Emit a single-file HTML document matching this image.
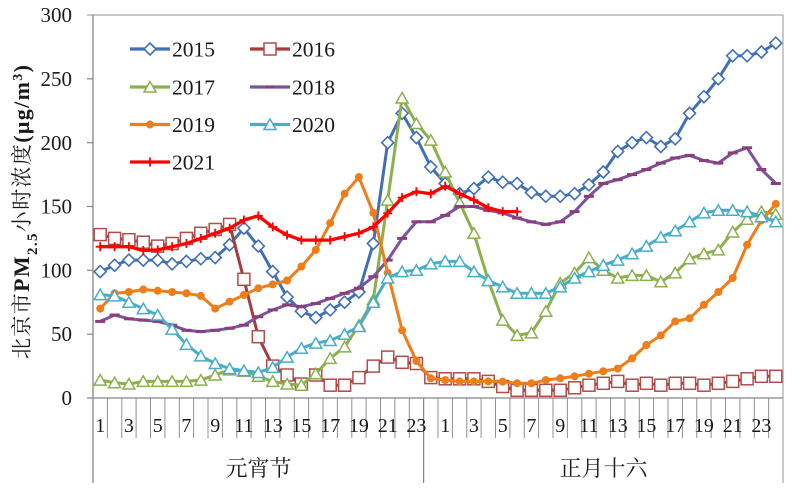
<!DOCTYPE html>
<html><head><meta charset="utf-8"><style>
html,body{margin:0;padding:0;background:#fff;}
svg{display:block;}
</style></head><body>
<svg width="800" height="501" viewBox="0 0 800 501" xmlns="http://www.w3.org/2000/svg">
<defs>
<marker id="md" markerUnits="userSpaceOnUse" markerWidth="16" markerHeight="16" refX="8" refY="8" overflow="visible"><path d="M8,2 L14,8 L8,14 L2,8Z" fill="#fff" stroke="#4170B5" stroke-width="1.6"/></marker>
<marker id="ms" markerUnits="userSpaceOnUse" markerWidth="16" markerHeight="16" refX="8" refY="8" overflow="visible"><rect x="2" y="2" width="12" height="12" fill="#fff" stroke="#B04C4A" stroke-width="1.5"/></marker>
<marker id="mtg" markerUnits="userSpaceOnUse" markerWidth="16" markerHeight="16" refX="8" refY="8" overflow="visible"><path d="M8,2.5 L14,13 L2,13Z" fill="#fff" stroke="#8CB04E" stroke-width="1.5"/></marker>
<marker id="mtc" markerUnits="userSpaceOnUse" markerWidth="16" markerHeight="16" refX="8" refY="8" overflow="visible"><path d="M8,2.5 L14,13 L2,13Z" fill="#fff" stroke="#48ADC8" stroke-width="1.5"/></marker>
<marker id="mh" markerUnits="userSpaceOnUse" markerWidth="16" markerHeight="16" refX="8" refY="8" overflow="visible"><rect x="3" y="6.5" width="10" height="3" fill="#8A3F7A"/></marker>
<marker id="mo" markerUnits="userSpaceOnUse" markerWidth="16" markerHeight="16" refX="8" refY="8" overflow="visible"><circle cx="8" cy="8" r="4" fill="#EE7E1A"/></marker>
<marker id="mp" markerUnits="userSpaceOnUse" markerWidth="16" markerHeight="16" refX="8" refY="8" overflow="visible"><path d="M8,3.5 V12.5 M3.5,8 H12.5" stroke="#FF0000" stroke-width="1.8"/></marker>
</defs>

<!-- plot frame -->
<line x1="87" y1="15" x2="783" y2="15" stroke="#A6A6A6" stroke-width="1.2"/>
<line x1="783" y1="15" x2="783" y2="483" stroke="#A6A6A6" stroke-width="1.2"/>
<line x1="93" y1="15" x2="93" y2="483" stroke="#868686" stroke-width="1.3"/>
<line x1="93" y1="398" x2="783" y2="398" stroke="#868686" stroke-width="1.3"/>
<g stroke="#868686" stroke-width="1.2">
<line x1="87" y1="78.8" x2="93" y2="78.8"/><line x1="87" y1="142.7" x2="93" y2="142.7"/>
<line x1="87" y1="206.5" x2="93" y2="206.5"/><line x1="87" y1="270.3" x2="93" y2="270.3"/>
<line x1="87" y1="334.2" x2="93" y2="334.2"/><line x1="87" y1="398" x2="93" y2="398"/>
<line x1="423.6" y1="398" x2="423.6" y2="483"/>
</g>
<g stroke="#909090" stroke-width="1">
<line x1="107.4" y1="398" x2="107.4" y2="438"/><line x1="121.8" y1="398" x2="121.8" y2="438"/>
<line x1="136.1" y1="398" x2="136.1" y2="438"/><line x1="150.5" y1="398" x2="150.5" y2="438"/>
<line x1="164.9" y1="398" x2="164.9" y2="438"/><line x1="179.3" y1="398" x2="179.3" y2="438"/>
<line x1="193.6" y1="398" x2="193.6" y2="438"/><line x1="208" y1="398" x2="208" y2="438"/>
<line x1="222.4" y1="398" x2="222.4" y2="438"/><line x1="236.8" y1="398" x2="236.8" y2="438"/>
<line x1="251.1" y1="398" x2="251.1" y2="438"/><line x1="265.5" y1="398" x2="265.5" y2="438"/>
<line x1="279.9" y1="398" x2="279.9" y2="438"/><line x1="294.3" y1="398" x2="294.3" y2="438"/>
<line x1="308.6" y1="398" x2="308.6" y2="438"/><line x1="323" y1="398" x2="323" y2="438"/>
<line x1="337.4" y1="398" x2="337.4" y2="438"/><line x1="351.8" y1="398" x2="351.8" y2="438"/>
<line x1="366.1" y1="398" x2="366.1" y2="438"/><line x1="380.5" y1="398" x2="380.5" y2="438"/>
<line x1="394.9" y1="398" x2="394.9" y2="438"/><line x1="409.3" y1="398" x2="409.3" y2="438"/>
<line x1="438" y1="398" x2="438" y2="438"/><line x1="452.4" y1="398" x2="452.4" y2="438"/>
<line x1="466.8" y1="398" x2="466.8" y2="438"/><line x1="481.1" y1="398" x2="481.1" y2="438"/>
<line x1="495.5" y1="398" x2="495.5" y2="438"/><line x1="509.9" y1="398" x2="509.9" y2="438"/>
<line x1="524.3" y1="398" x2="524.3" y2="438"/><line x1="538.6" y1="398" x2="538.6" y2="438"/>
<line x1="553" y1="398" x2="553" y2="438"/><line x1="567.4" y1="398" x2="567.4" y2="438"/>
<line x1="581.8" y1="398" x2="581.8" y2="438"/><line x1="596.1" y1="398" x2="596.1" y2="438"/>
<line x1="610.5" y1="398" x2="610.5" y2="438"/><line x1="624.9" y1="398" x2="624.9" y2="438"/>
<line x1="639.3" y1="398" x2="639.3" y2="438"/><line x1="653.6" y1="398" x2="653.6" y2="438"/>
<line x1="668" y1="398" x2="668" y2="438"/><line x1="682.4" y1="398" x2="682.4" y2="438"/>
<line x1="696.8" y1="398" x2="696.8" y2="438"/><line x1="711.1" y1="398" x2="711.1" y2="438"/>
<line x1="725.5" y1="398" x2="725.5" y2="438"/><line x1="739.9" y1="398" x2="739.9" y2="438"/>
<line x1="754.3" y1="398" x2="754.3" y2="438"/><line x1="768.6" y1="398" x2="768.6" y2="438"/>
</g>

<!-- y labels -->
<g font-family="Liberation Serif, serif" font-size="21" fill="#1a1a1a" text-anchor="end">
<text x="72" y="22">300</text><text x="72" y="86">250</text><text x="72" y="150">200</text>
<text x="72" y="213.5">150</text><text x="72" y="277.5">100</text><text x="72" y="341">50</text><text x="72" y="405">0</text>
</g>
<!-- x labels -->
<g font-family="Liberation Serif, serif" font-size="20" fill="#1a1a1a" text-anchor="middle">
<text x="100.2" y="432">1</text><text x="128.9" y="432">3</text><text x="157.7" y="432">5</text><text x="186.4" y="432">7</text>
<text x="215.2" y="432">9</text><text x="243.9" y="432">11</text><text x="272.7" y="432">13</text><text x="301.4" y="432">15</text>
<text x="330.2" y="432">17</text><text x="358.9" y="432">19</text><text x="387.7" y="432">21</text><text x="416.4" y="432">23</text>
<text x="445.2" y="432">1</text><text x="473.9" y="432">3</text><text x="502.7" y="432">5</text><text x="531.4" y="432">7</text>
<text x="560.2" y="432">9</text><text x="588.9" y="432">11</text><text x="617.7" y="432">13</text><text x="646.4" y="432">15</text>
<text x="675.2" y="432">17</text><text x="703.9" y="432">19</text><text x="732.7" y="432">21</text><text x="761.4" y="432">23</text>
</g>
<g font-family="Liberation Serif, 'Noto Serif CJK SC', serif" font-size="22" fill="#1a1a1a" text-anchor="middle">
<text x="258.5" y="476">元宵节</text>
<text x="603.5" y="476">正月十六</text>
</g>

<!-- y title -->
<text transform="translate(29,212) rotate(-90)" text-anchor="middle" font-size="22" fill="#1a1a1a" textLength="294" lengthAdjust="spacing" font-family="Liberation Serif, 'Noto Serif CJK SC', serif"><tspan font-size="21">北京市</tspan><tspan font-weight="bold">PM</tspan><tspan font-weight="bold" font-size="15" baseline-shift="sub">2.5</tspan><tspan font-size="21">小时浓度</tspan><tspan font-weight="bold">(μg/m</tspan><tspan font-weight="bold" font-size="14" baseline-shift="super">3</tspan><tspan font-weight="bold">)</tspan></text>

<!-- series -->
<g fill="none" stroke-linejoin="round" stroke-linecap="round">
<polyline stroke="#4170B5" stroke-width="3" marker-start="url(#md)" marker-mid="url(#md)" marker-end="url(#md)" points="100.2,271.6 114.6,265.2 128.9,260.1 143.3,260.1 157.7,260.1 172.1,263.9 186.4,261.4 200.8,258.8 215.2,257.6 229.6,244.8 243.9,228.2 258.3,246.1 272.7,271.6 287.1,297.1 301.4,311.2 315.8,317.6 330.2,309.9 344.6,302.2 358.9,292.0 373.3,243.5 387.7,142.7 402.1,113.3 416.4,137.6 430.8,166.9 445.2,183.5 459.6,193.7 473.9,188.6 488.3,177.1 502.7,182.2 517.1,183.5 531.4,192.5 545.8,196.3 560.2,196.3 574.6,193.7 588.9,184.8 603.3,172.0 617.7,151.6 632.1,142.7 646.4,137.6 660.8,146.5 675.2,138.8 689.6,113.3 703.9,96.7 718.3,78.8 732.7,55.8 747.1,55.8 761.4,52.0 775.8,43.1"/>
<polyline stroke="#A23E3B" stroke-width="3" marker-start="url(#ms)" marker-mid="url(#ms)" marker-end="url(#ms)" points="100.2,234.6 114.6,238.4 128.9,239.7 143.3,242.2 157.7,246.1 172.1,243.5 186.4,238.4 200.8,233.3 215.2,229.5 229.6,224.4 243.9,279.3 258.3,336.7 272.7,366.1 287.1,375.0 301.4,384.0 315.8,375.0 330.2,385.2 344.6,385.2 358.9,377.6 373.3,366.1 387.7,357.1 402.1,362.3 416.4,363.5 430.8,377.6 445.2,378.8 459.6,378.8 473.9,378.8 488.3,381.4 502.7,386.5 517.1,390.3 531.4,390.3 545.8,390.3 560.2,390.3 574.6,387.8 588.9,385.2 603.3,383.3 617.7,381.4 632.1,385.2 646.4,383.3 660.8,385.2 675.2,383.3 689.6,383.3 703.9,385.2 718.3,383.3 732.7,381.4 747.1,378.8 761.4,376.3 775.8,376.3"/>
<polyline stroke="#8CB04E" stroke-width="3" marker-start="url(#mtg)" marker-mid="url(#mtg)" marker-end="url(#mtg)" points="100.2,380.1 114.6,382.7 128.9,384.0 143.3,381.4 157.7,381.4 172.1,381.4 186.4,381.4 200.8,380.1 215.2,375.0 229.6,369.9 243.9,371.2 258.3,376.3 272.7,381.4 287.1,384.0 301.4,385.2 315.8,373.7 330.2,358.4 344.6,346.9 358.9,325.2 373.3,299.7 387.7,200.1 402.1,98.0 416.4,123.5 430.8,140.1 445.2,172.0 459.6,202.7 473.9,233.3 488.3,280.5 502.7,320.1 517.1,335.4 531.4,332.9 545.8,311.2 560.2,283.1 574.6,272.9 588.9,257.6 603.3,270.3 617.7,278.0 632.1,275.4 646.4,275.4 660.8,281.8 675.2,272.9 689.6,258.8 703.9,253.7 718.3,249.9 732.7,232.0 747.1,219.3 761.4,211.6 775.8,214.2"/>
<polyline stroke="#7B549C" stroke-width="3" marker-start="url(#mh)" marker-mid="url(#mh)" marker-end="url(#mh)" points="100.2,321.4 114.6,315.0 128.9,318.8 143.3,320.1 157.7,321.4 172.1,325.2 186.4,330.3 200.8,331.6 215.2,330.3 229.6,328.3 243.9,325.2 258.3,316.7 272.7,309.9 287.1,304.8 301.4,306.7 315.8,303.5 330.2,298.4 344.6,293.3 358.9,288.2 373.3,276.7 387.7,260.1 402.1,238.4 416.4,221.8 430.8,221.8 445.2,215.4 459.6,206.5 473.9,206.5 488.3,210.3 502.7,212.9 517.1,218.0 531.4,221.8 545.8,224.4 560.2,221.8 574.6,211.6 588.9,196.3 603.3,183.5 617.7,179.7 632.1,174.6 646.4,169.5 660.8,163.1 675.2,158.0 689.6,155.4 703.9,160.5 718.3,163.1 732.7,152.9 747.1,147.8 761.4,169.5 775.8,183.5"/>
<polyline stroke="#EE7E1A" stroke-width="3" marker-start="url(#mo)" marker-mid="url(#mo)" marker-end="url(#mo)" points="100.2,308.6 114.6,293.3 128.9,292.0 143.3,289.5 157.7,290.8 172.1,292.0 186.4,293.3 200.8,295.9 215.2,308.6 229.6,301.6 243.9,295.0 258.3,288.2 272.7,284.4 287.1,280.5 301.4,266.5 315.8,249.9 330.2,223.1 344.6,193.7 358.9,177.1 373.3,212.9 387.7,272.9 402.1,330.3 416.4,361.0 430.8,378.3 445.2,380.1 459.6,381.4 473.9,381.4 488.3,381.4 502.7,381.7 517.1,383.3 531.4,383.3 545.8,380.1 560.2,378.3 574.6,376.3 588.9,373.7 603.3,371.2 617.7,368.6 632.1,358.4 646.4,345.0 660.8,335.4 675.2,321.4 689.6,318.3 703.9,304.8 718.3,292.0 732.7,278.0 747.1,244.8 761.4,220.5 775.8,203.9"/>
<polyline stroke="#48ADC8" stroke-width="3" marker-start="url(#mtc)" marker-mid="url(#mtc)" marker-end="url(#mtc)" points="100.2,294.6 114.6,295.9 128.9,302.2 143.3,308.6 157.7,315.0 172.1,329.1 186.4,344.4 200.8,355.9 215.2,363.5 229.6,368.6 243.9,370.6 258.3,372.5 272.7,367.4 287.1,357.1 301.4,348.2 315.8,343.1 330.2,340.5 344.6,334.2 358.9,326.5 373.3,302.2 387.7,278.0 402.1,271.6 416.4,270.3 430.8,263.9 445.2,261.4 459.6,261.4 473.9,271.6 488.3,280.5 502.7,286.9 517.1,293.3 531.4,293.3 545.8,293.3 560.2,286.9 574.6,278.0 588.9,271.6 603.3,265.2 617.7,260.1 632.1,253.7 646.4,246.1 660.8,237.1 675.2,230.8 689.6,221.8 703.9,212.9 718.3,210.3 732.7,210.3 747.1,211.6 761.4,216.7 775.8,221.8"/>
<polyline stroke="#FF0000" stroke-width="3.3" marker-start="url(#mp)" marker-mid="url(#mp)" marker-end="url(#mp)" points="100.2,246.7 114.6,246.7 128.9,246.7 143.3,250.5 157.7,249.9 172.1,246.7 186.4,243.5 200.8,238.4 215.2,233.3 229.6,228.2 243.9,220.0 258.3,215.9 272.7,226.9 287.1,235.0 301.4,240.1 315.8,240.1 330.2,240.1 344.6,236.6 358.9,233.3 373.3,226.9 387.7,213.3 402.1,197.6 416.4,191.7 430.8,193.7 445.2,186.1 459.6,193.7 473.9,200.1 488.3,207.8 502.7,211.6 517.1,211.6"/>
</g>

<!-- legend -->
<g fill="none">
<line x1="130" y1="49" x2="170" y2="49" stroke="#4170B5" stroke-width="3.2"/>
<path d="M150,43 L156,49 L150,55 L144,49Z" fill="#fff" stroke="#4170B5" stroke-width="1.6"/>
<line x1="250" y1="49" x2="290" y2="49" stroke="#A23E3B" stroke-width="3.2"/>
<rect x="264" y="43" width="12" height="12" fill="#fff" stroke="#B04C4A" stroke-width="1.5"/>
<line x1="130" y1="87" x2="170" y2="87" stroke="#8CB04E" stroke-width="3.2"/>
<path d="M150,81.5 L156,92 L144,92Z" fill="#fff" stroke="#8CB04E" stroke-width="1.5"/>
<line x1="250" y1="87" x2="290" y2="87" stroke="#7B549C" stroke-width="3.2"/>
<rect x="265" y="85.5" width="10" height="3" fill="#8A3F7A"/>
<line x1="130" y1="124.5" x2="170" y2="124.5" stroke="#EE7E1A" stroke-width="3.2"/>
<circle cx="150" cy="124.5" r="4" fill="#EE7E1A"/>
<line x1="250" y1="124.5" x2="290" y2="124.5" stroke="#48ADC8" stroke-width="3.2"/>
<path d="M270,119 L276,129.5 L264,129.5Z" fill="#fff" stroke="#48ADC8" stroke-width="1.5"/>
<line x1="130" y1="162" x2="170" y2="162" stroke="#FF0000" stroke-width="3.3"/>
<path d="M150,157.5 V166.5 M145.5,162 H154.5" stroke="#FF0000" stroke-width="1.8"/>
</g>
<g font-family="Liberation Serif, serif" font-size="21.5" fill="#1a1a1a">
<text x="172" y="56.5">2015</text><text x="292" y="56.5">2016</text>
<text x="172" y="94.5">2017</text><text x="292" y="94.5">2018</text>
<text x="172" y="132">2019</text><text x="292" y="132">2020</text>
<text x="172" y="169.5">2021</text>
</g>
</svg>
</body></html>
